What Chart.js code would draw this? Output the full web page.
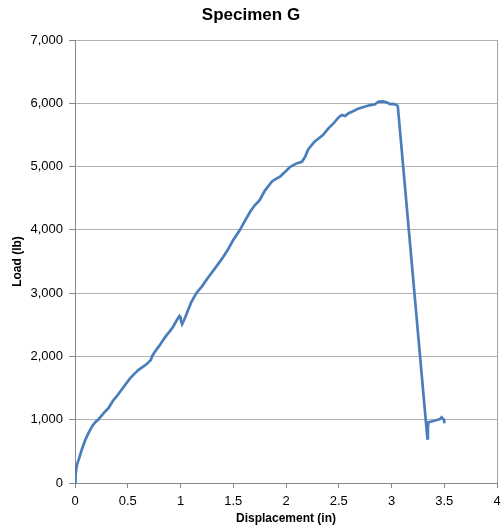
<!DOCTYPE html>
<html>
<head>
<meta charset="utf-8">
<script src="https://cdn.jsdelivr.net/npm/chart.js@4.4.1/dist/chart.umd.min.js"></script>
<style>
  html, body { margin: 0; padding: 0; background: #fff; }
  #wrap { width: 502px; height: 532px; }
</style>
</head>
<body>
<div id="wrap"><canvas id="c" width="502" height="532"></canvas></div>
<script>
const titleText = "Specimen G";
const xTitle = "Displacement (in)";
const yTitle = "Load (lb)";

const displacement = [0, 0.005, 0.012, 0.02, 0.035, 0.05, 0.065, 0.08, 0.10, 0.126, 0.15, 0.17, 0.20, 0.22, 0.25, 0.28, 0.316, 0.36, 0.40, 0.44, 0.48, 0.52, 0.56, 0.60, 0.64, 0.68, 0.71, 0.72, 0.73, 0.76, 0.80, 0.84, 0.87, 0.90, 0.93, 0.96, 0.99, 1.00, 1.005, 1.015, 1.03, 1.05, 1.074, 1.10, 1.15, 1.20, 1.25, 1.28, 1.33, 1.37, 1.406, 1.45, 1.50, 1.564, 1.60, 1.66, 1.70, 1.75, 1.80, 1.865, 1.90, 1.943, 2.00, 2.04, 2.10, 2.15, 2.18, 2.21, 2.27, 2.35, 2.40, 2.45, 2.50, 2.53, 2.56, 2.59, 2.63, 2.69, 2.75, 2.80, 2.84, 2.875, 2.91, 2.94, 2.97, 2.99, 3.02, 3.05, 3.06, 3.34, 3.345, 3.35, 3.39, 3.43, 3.46, 3.475, 3.49, 3.50, 3.50];
const load = [0, 120, 220, 300, 370, 450, 530, 600, 690, 785, 860, 916, 975, 1000, 1060, 1120, 1180, 1300, 1380, 1470, 1560, 1650, 1720, 1785, 1830, 1880, 1930, 1945, 2000, 2080, 2170, 2270, 2340, 2400, 2470, 2560, 2640, 2620, 2560, 2510, 2560, 2640, 2740, 2850, 3000, 3100, 3220, 3286, 3400, 3490, 3575, 3690, 3839, 4000, 4110, 4286, 4380, 4470, 4620, 4760, 4800, 4839, 4930, 4997, 5050, 5076, 5150, 5270, 5392, 5498, 5600, 5683, 5780, 5814, 5800, 5840, 5870, 5919, 5950, 5972, 5980, 6024, 6030, 6024, 6000, 5987, 5990, 5972, 5950, 705, 880, 960, 975, 995, 1010, 1038, 1010, 995, 943];

const xMin = 0, xMax = 4, xStep = 0.5;
const yMin = 0, yMax = 7000, yStep = 1000;

const points = displacement.map((x, i) => ({ x: x, y: load[i] }));

const FONT = "'Liberation Sans', Arial, sans-serif";

new Chart(document.getElementById('c'), {
  type: 'scatter',
  data: {
    datasets: [{
      data: points,
      showLine: true,
      borderColor: '#4A7EBB',
      backgroundColor: '#4A7EBB',
      borderWidth: 2.7,
      pointRadius: 0,
      tension: 0
    }]
  },
  options: {
    responsive: false,
    animation: false,
    layout: { padding: { left: 0, right: 0, top: 0, bottom: 0 } },
    plugins: {
      legend: { display: false },
      tooltip: { enabled: false },
      title: {
        display: true,
        text: titleText,
        color: '#000',
        font: { family: FONT, size: 17, weight: 'bold', lineHeight: 1.2 },
        padding: { top: 5, bottom: 14.6 }
      }
    },
    scales: {
      x: {
        type: 'linear',
        min: xMin, max: xMax,
        afterFit: s => { s.height = 49; s.paddingRight = 5; s.paddingLeft = 0; },
        ticks: {
          stepSize: xStep,
          color: '#000',
          font: { family: FONT, size: 13 },
          padding: 6,
          maxRotation: 0,
          callback: v => String(v)
        },
        grid: {
          drawOnChartArea: true,
          color: ctx => (ctx.tick && ctx.tick.value === xMax) ? '#a0a0a0' : 'rgba(0,0,0,0)',
          tickColor: '#888',
          tickLength: 5
        },
        border: { color: '#888', width: 1 },
        title: {
          display: true,
          text: xTitle,
          color: '#000',
          font: { family: FONT, size: 12, weight: 'bold', lineHeight: 1.2 },
          padding: { top: 0, bottom: 6 }
        }
      },
      y: {
        type: 'linear',
        min: yMin, max: yMax,
        afterFit: s => { s.width = 75; },
        ticks: {
          stepSize: yStep,
          color: '#000',
          font: { family: FONT, size: 13 },
          padding: 6,
          callback: v => v.toLocaleString('en-US')
        },
        grid: {
          color: '#b0b0b0',
          tickColor: '#888',
          tickLength: 6
        },
        border: { color: '#888', width: 1 },
        title: {
          display: true,
          text: yTitle,
          color: '#000',
          font: { family: FONT, size: 12, weight: 'bold', lineHeight: 1.2 },
          padding: { top: 10, bottom: 0 }
        }
      }
    }
  }
});
</script>
</body>
</html>
